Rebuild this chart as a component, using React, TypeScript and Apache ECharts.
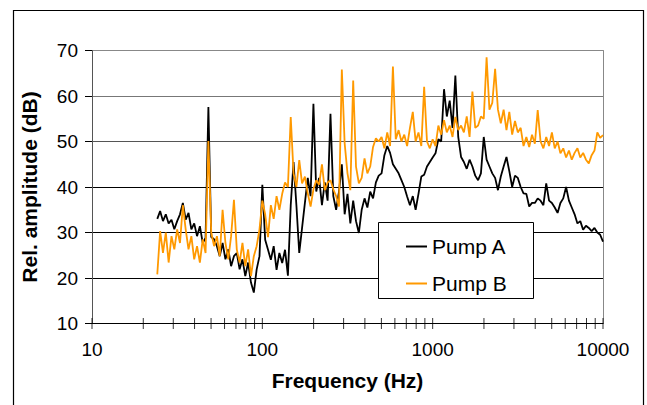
import { useEffect, useRef } from "react";
import * as echarts from "echarts";

// Frequency grid (Hz), log spaced
const frequencyHz = [
  24.17, 25.12, 26.1, 27.12, 28.18, 29.29, 30.43, 31.62, 32.86, 34.15,
  35.48, 36.87, 38.31, 39.81, 41.37, 42.99, 44.67, 46.42, 48.23, 50.12,
  52.08, 54.12, 56.23, 58.43, 60.72, 63.1, 65.56, 68.13, 70.79, 73.56,
  76.44, 79.43, 82.54, 85.77, 89.13, 92.61, 96.24,
  100, 103.9, 108.0, 112.2, 116.6, 121.2, 125.9, 130.8, 135.9, 141.3,
  146.8, 152.5, 158.5, 164.7, 171.1, 177.8, 184.8, 192.0, 199.5, 207.3,
  215.4, 223.9, 232.6, 241.7, 251.2, 261.0, 271.2, 281.8, 292.9, 304.3,
  316.2, 328.6, 341.5, 354.8, 368.7, 383.1, 398.1, 413.7, 429.9, 446.7,
  464.2, 482.3, 501.2, 520.8, 541.2, 562.3, 584.3, 607.2, 631.0, 655.6,
  681.3, 707.9, 735.6, 764.4, 794.3, 825.4, 857.7, 891.3, 926.1, 962.4,
  1000, 1039, 1080, 1122, 1166, 1211, 1259, 1308, 1359, 1413,
  1468, 1525, 1585, 1647, 1711, 1778, 1848, 1920, 1995, 2073,
  2154, 2239, 2326, 2417, 2512, 2610, 2712, 2818, 2929, 3043,
  3162, 3286, 3415, 3548, 3687, 3831, 3981, 4137, 4299, 4467,
  4642, 4823, 5012, 5208, 5412, 5623, 5843, 6072, 6310, 6556,
  6813, 7079, 7356, 7644, 7943, 8254, 8577, 8913, 9261, 9624,
  10000,
];

// Pump A relative amplitude (dB)
const pumpA = [
  33, 34.7, 32.5, 34, 32, 32.8, 30.7, 32.5, 34, 36.5,
  32.8, 34.3, 30.7, 32, 29.2, 31.4, 27.7, 28.8, 57.6, 29,
  28.5, 27, 24.8, 27.7, 24.1, 26.3, 22.6, 24.8, 25.5, 21.9,
  24.1, 20.4, 23.4, 19, 16.8, 21.9, 24.8,
  40.5, 28.4, 26.2, 24, 27, 21.8, 25.5, 23.3, 26.2, 20.5,
  36, 45.5, 36, 25.5, 31, 36.5, 42, 38, 58.3, 39,
  42, 36, 41, 37, 56.1, 38, 35, 39, 45, 34,
  38.5, 32, 37, 32.5, 29.9, 35, 37.5, 35.5, 39, 37.5,
  41, 42.5, 43, 47, 49, 47.5, 45, 44, 43, 41.5,
  40, 37.9, 36, 38, 35, 38.5, 42.3, 42.7, 44.5, 45.5,
  46.5, 47.4, 50.5, 50, 61.5, 55.5, 59, 53, 64.5, 51,
  46.6, 45.5, 44, 46, 44.5, 42.5, 41.5, 43, 51, 46,
  44.5, 43, 42, 39.3, 42.3, 44.5, 46.6, 43.5, 40, 42.5,
  42, 40, 38.6, 38.5, 35.7, 36.5, 36.5, 37.5, 37, 36,
  40.8, 37, 36.5, 35.5, 34.3, 36.5, 37.5, 40, 37, 35.5,
  34, 32, 32.5, 30.6, 31.5, 31, 30.3, 31, 30, 29.5,
  28,
];

// Pump B relative amplitude (dB)
const pumpB = [
  20.8, 30.3, 25.5, 30, 23.4, 29.2, 26.3, 30.7, 27.7, 36,
  30.7, 26.3, 29.2, 24.1, 27, 23.4, 28.5, 25.5, 50.1, 30,
  27, 29.2, 24.8, 35, 27.7, 24.1, 29.2, 37.2, 26.3, 23.4,
  27.7, 22.6, 26.3, 20.4, 24.8, 27, 30.7,
  37, 34, 29, 36, 33, 38, 35, 38.5, 41, 40,
  55.4, 43, 40, 45.9, 40.8, 42.3, 38.6, 35.7, 39.5, 41.5,
  40.5, 45, 39.3, 41, 41.5, 39.5, 38, 35.7, 65.8, 49.6,
  43, 39.3, 63.4, 44.5, 40.8, 42, 46.3, 43, 44.5, 48.8,
  50.7, 50, 51, 48.5, 52, 49, 66.5, 50.5, 52.5, 50,
  51.5, 49, 53, 56.5, 50, 52, 49, 62, 50, 48.5,
  50.5, 49, 53.5, 51.5, 54.7, 52, 53.5, 51, 55.4, 52.5,
  53.5, 52, 55.5, 51, 61, 53, 53.5, 55.5, 55, 68.5,
  57, 58.5, 66, 57, 54, 57, 52.5, 56.5, 51.5, 54.5,
  52, 53, 49, 51, 48.8, 51.5, 49.5, 56.9, 50, 48.5,
  51, 49, 52, 48.5, 50, 47.4, 48.5, 46.5, 48, 46,
  47.5, 48.5, 46.5, 47.5, 46, 45.2, 47, 48, 52, 50.8,
  51.4,
];

const seriesNames = ["Pump A", "Pump B"];
const majorTicksHz = [10, 100, 1000, 10000];
const minorTicksHz = [
  20, 30, 40, 50, 60, 70, 80, 90,
  200, 300, 400, 500, 600, 700, 800, 900,
  2000, 3000, 4000, 5000, 6000, 7000, 8000, 9000,
];
const yMin = 10;
const yMax = 70;
const yStep = 10;

const FONT = 'Arial, "Liberation Sans", sans-serif';

export default function App() {
  const ref = useRef<HTMLDivElement>(null);

  useEffect(() => {
    document.body.style.margin = "0";
    document.body.style.overflow = "hidden";
    const chart = echarts.init(ref.current!, undefined, { renderer: "svg" });
    const tickData = [...majorTicksHz, ...minorTicksHz].map((f) => [f, yMin]);

    chart.setOption({
      animation: false,
      backgroundColor: "#ffffff",
      textStyle: { fontFamily: FONT, color: "#000" },
      grid: { left: 92, right: 44, top: 50.5, bottom: 81.5 },
      xAxis: {
        type: "log",
        logBase: 10,
        min: 10,
        max: 10000,
        name: "Frequency (Hz)",
        nameLocation: "middle",
        nameGap: 46,
        nameTextStyle: { fontFamily: FONT, fontWeight: "bold", fontSize: 21, color: "#000" },
        axisLine: { show: true, lineStyle: { color: "#000", width: 1 } },
        axisTick: { show: false },
        minorTick: { show: false },
        splitLine: { show: false },
        axisLabel: {
          fontFamily: FONT,
          fontSize: 19,
          color: "#000",
          margin: 16,
          formatter: (v: number) => String(Math.round(v)),
        },
      },
      yAxis: [
        {
          type: "value",
          min: yMin,
          max: yMax,
          interval: yStep,
          name: "Rel. amplitude (dB)",
          nameLocation: "middle",
          nameGap: 52,
          nameTextStyle: { fontFamily: FONT, fontWeight: "bold", fontSize: 21, color: "#000" },
          axisLine: { show: true, lineStyle: { color: "#555", width: 1 } },
          axisTick: { show: true, inside: false, length: 7, lineStyle: { color: "#000" } },
          splitLine: {
            show: true,
            lineStyle: { color: ["#000", "#000", "#000", "#000", "#555", "#777", "#888"], width: 1 },
          },
          axisLabel: { fontFamily: FONT, fontSize: 19, color: "#000", margin: 14 },
        },
        {
          type: "value",
          min: yMin,
          max: yMax,
          interval: yStep,
          position: "right",
          axisLine: { show: true, lineStyle: { color: "#888", width: 1 } },
          axisTick: { show: false },
          axisLabel: { show: false },
          splitLine: { show: false },
        },
      ],
      legend: {
        data: seriesNames,
        orient: "vertical",
        left: 406,
        top: 236,
        padding: 0,
        itemGap: 16,
        itemWidth: 21,
        itemHeight: 2,
        icon: "rect",
        z: 20,
        textStyle: { fontFamily: FONT, fontSize: 21, color: "#000", lineHeight: 21 },
      },
      graphic: [
        {
          type: "rect",
          z: 0,
          silent: true,
          shape: { x: 13.5, y: 10.5, width: 630, height: 420 },
          style: { fill: "none", stroke: "#000", lineWidth: 1.2 },
        },
        {
          type: "rect",
          z: 15,
          silent: true,
          shape: { x: 378.5, y: 222.5, width: 155, height: 76 },
          style: { fill: "#fff", stroke: "#000", lineWidth: 1 },
        },
      ],
      series: [
        {
          name: seriesNames[0],
          type: "line",
          data: frequencyHz.map((f, i) => [f, pumpA[i]]),
          showSymbol: false,
          symbol: "none",
          lineStyle: { color: "#000000", width: 1.8 },
          itemStyle: { color: "#000000" },
          z: 3,
        },
        {
          name: seriesNames[1],
          type: "line",
          data: frequencyHz.map((f, i) => [f, pumpB[i]]),
          showSymbol: false,
          symbol: "none",
          lineStyle: { color: "#FF9900", width: 1.8 },
          itemStyle: { color: "#FF9900" },
          z: 4,
        },
        {
          name: "ticks",
          type: "scatter",
          data: tickData,
          symbol: "rect",
          symbolSize: [1, 11],
          clip: false,
          silent: true,
          itemStyle: { color: "#000" },
          z: 5,
        },
      ],
    });

    return () => chart.dispose();
  }, []);

  return <div ref={ref} style={{ width: 647, height: 405 }} />;
}
